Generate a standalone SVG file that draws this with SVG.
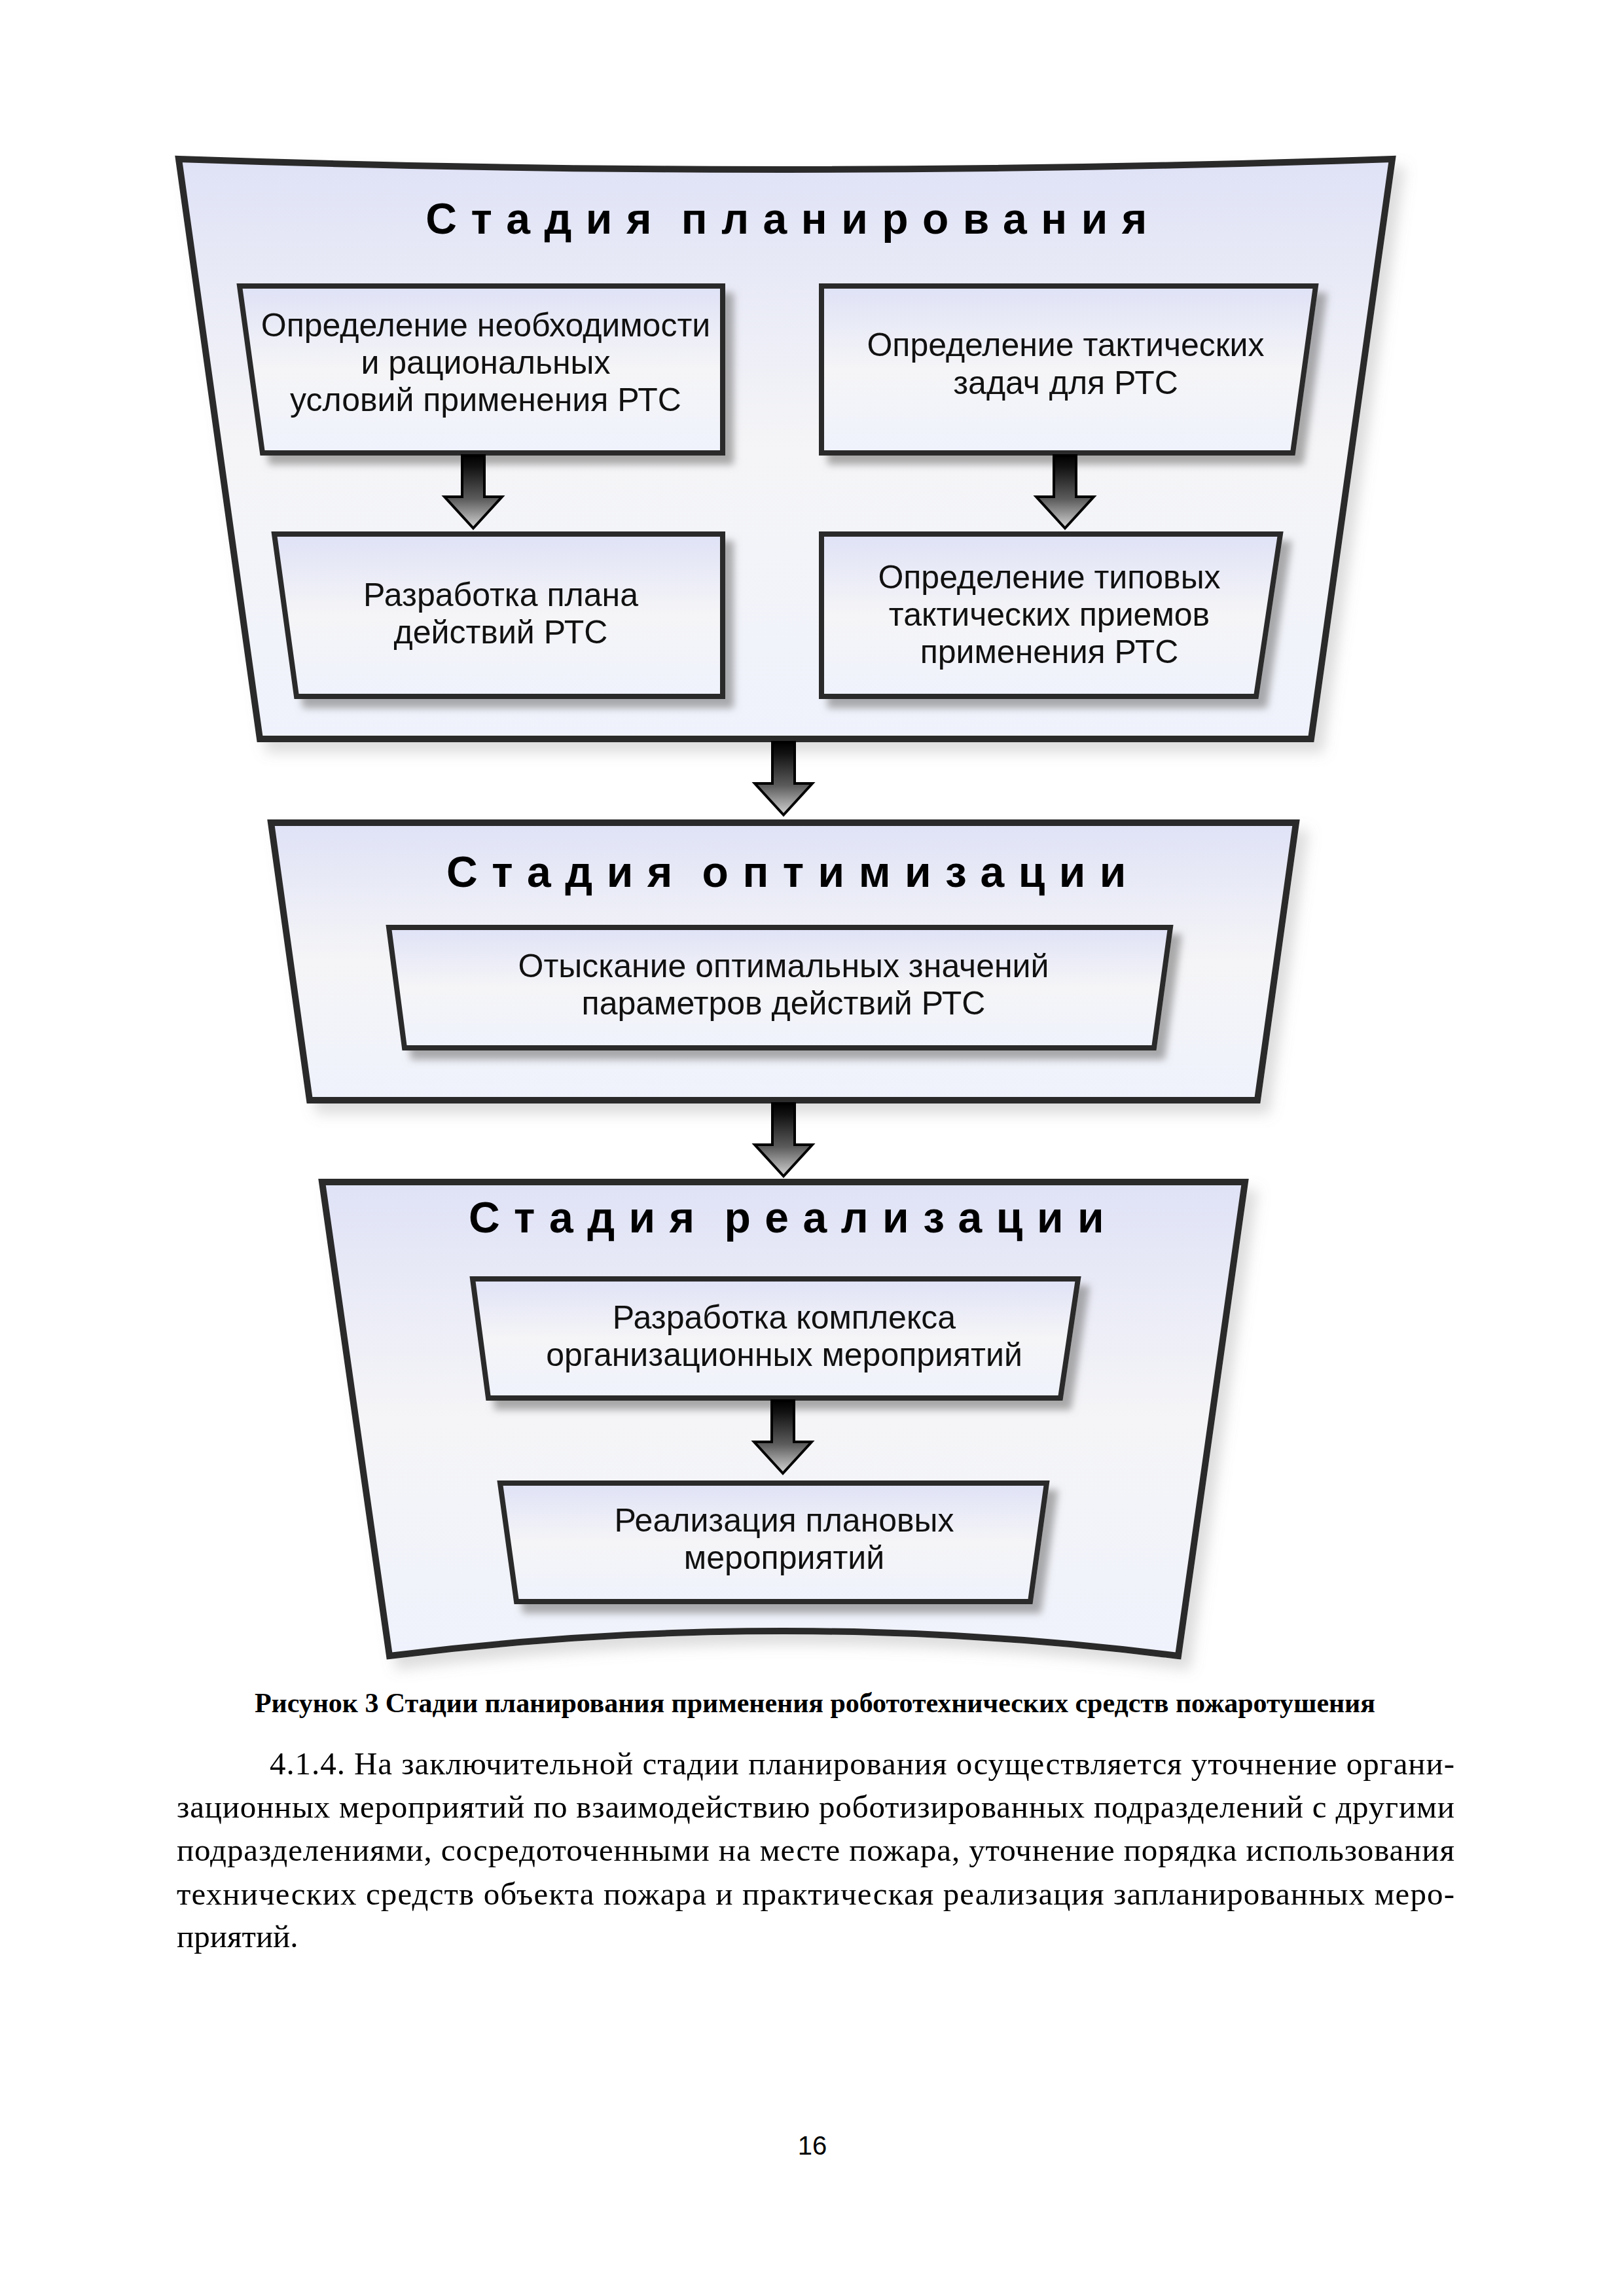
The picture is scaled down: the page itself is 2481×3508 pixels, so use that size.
<svg xmlns="http://www.w3.org/2000/svg" xmlns:xlink="http://www.w3.org/1999/xlink" width="2481" height="3508" viewBox="0 0 2481 3508">
<defs>
<linearGradient id="gFill" x1="0" y1="0" x2="0" y2="1">
<stop offset="0" stop-color="#dfe2f6"/>
<stop offset="0.5" stop-color="#f5f5f7"/>
<stop offset="1" stop-color="#eff2fc"/>
</linearGradient>
<linearGradient id="gArrow" x1="0" y1="0" x2="0" y2="1">
<stop offset="0" stop-color="#000000"/>
<stop offset="0.15" stop-color="#111111"/>
<stop offset="0.6" stop-color="#5c5c5c"/>
<stop offset="1" stop-color="#d4d4d4"/>
</linearGradient>
<filter id="shBox" x="-10%" y="-10%" width="130%" height="140%">
<feDropShadow dx="13" dy="14" stdDeviation="6" flood-color="#808080" flood-opacity="0.65"/>
</filter>
<filter id="shFrame" x="-10%" y="-10%" width="130%" height="130%">
<feDropShadow dx="14" dy="16" stdDeviation="10" flood-color="#909090" flood-opacity="0.3"/>
</filter>
<path id="arrow" d="M-17,0 L17,0 L17,63 L44,63 L0,111 L-44,63 L-17,63 Z" fill="url(#gArrow)" stroke="#000" stroke-width="4" stroke-linejoin="miter"/>
<style>
.frame{fill:url(#gFill);stroke:#2b2a2b;stroke-width:10;stroke-linejoin:miter;filter:url(#shFrame)}
.box{fill:url(#gFill);stroke:#2b2a2b;stroke-width:8;stroke-linejoin:miter;filter:url(#shBox)}
.title{font-family:"Liberation Sans",Arial,sans-serif;font-weight:bold;font-size:66px;letter-spacing:21.5px;word-spacing:-16px;fill:#000;text-anchor:middle}
.lbl{font-family:"Liberation Sans",Arial,sans-serif;font-size:50px;fill:#111;text-anchor:middle}
.cap{font-family:"Liberation Serif","Times New Roman",serif;font-weight:bold;font-size:42px;fill:#000}
.body{font-family:"Liberation Serif","Times New Roman",serif;font-size:49px;fill:#000}
.pg{font-family:"Liberation Sans",Arial,sans-serif;font-size:40px;fill:#000;text-anchor:middle}
</style>
</defs>
<rect width="2481" height="3508" fill="#ffffff"/>

<g id="stage-planning">
<path class="frame" d="M273,243 Q1200,275 2127,243 L2003,1129 L397,1129 Z"/>
<text class="title" x="1212" y="357">Стадия планирования</text>
</g>
<g id="stage-optimization">
<path class="frame" d="M414,1257 L1980,1257 L1921,1681 L473,1681 Z"/>
<text class="title" x="1212" y="1355">Стадия оптимизации</text>
</g>
<g id="stage-realization">
<path class="frame" d="M492,1806 L1902,1806 L1800,2530 Q1197,2454 595,2530 Z"/>
<text class="title" x="1212" y="1883">Стадия реализации</text>
</g>

<g id="box-need">
<path class="box" d="M366,437 L1104,437 L1104,692 L401,692 Z"/>
<text class="lbl" x="742" y="514">Определение необходимости</text>
<text class="lbl" x="742" y="571">и рациональных</text>
<text class="lbl" x="742" y="628">условий применения РТС</text>
</g>
<g id="box-tasks">
<path class="box" d="M1255,437 L2010,437 L1975,692 L1255,692 Z"/>
<text class="lbl" x="1628" y="544">Определение тактических</text>
<text class="lbl" x="1628" y="602">задач для РТС</text>
</g>
<g id="box-plan">
<path class="box" d="M419,816 L1104,816 L1104,1064 L453,1064 Z"/>
<text class="lbl" x="765" y="926">Разработка плана</text>
<text class="lbl" x="765" y="983">действий РТС</text>
</g>
<g id="box-methods">
<path class="box" d="M1255,816 L1956,816 L1919,1064 L1255,1064 Z"/>
<text class="lbl" x="1603" y="899">Определение типовых</text>
<text class="lbl" x="1603" y="956">тактических приемов</text>
<text class="lbl" x="1603" y="1013">применения РТС</text>
</g>
<g id="box-optimal">
<path class="box" d="M594,1417 L1788,1417 L1763,1601 L618,1601 Z"/>
<text class="lbl" x="1197" y="1493">Отыскание оптимальных значений</text>
<text class="lbl" x="1197" y="1550">параметров действий РТС</text>
</g>
<g id="box-complex">
<path class="box" d="M722,1954 L1647,1954 L1620,2136 L746,2136 Z"/>
<text class="lbl" x="1198" y="2030">Разработка комплекса</text>
<text class="lbl" x="1198" y="2087">организационных мероприятий</text>
</g>
<g id="box-realize">
<path class="box" d="M764,2266 L1599,2266 L1574,2447 L789,2447 Z"/>
<text class="lbl" x="1198" y="2340">Реализация плановых</text>
<text class="lbl" x="1198" y="2397">мероприятий</text>
</g>

<g id="connectors">
<use xlink:href="#arrow" x="723" y="696"/>
<use xlink:href="#arrow" x="1627" y="696"/>
<use xlink:href="#arrow" x="1197" y="1134"/>
<use xlink:href="#arrow" x="1197" y="1686"/>
<use xlink:href="#arrow" x="1196" y="2140"/>
</g>

<g id="caption">
<text class="cap" x="389" y="2616" textLength="1712" lengthAdjust="spacing">Рисунок 3 Стадии планирования применения робототехнических средств пожаротушения</text>
</g>
<g id="body-text">
<text class="body" x="412" y="2711" textLength="1810" lengthAdjust="spacing">4.1.4. На заключительной стадии планирования осуществляется уточнение органи-</text>
<text class="body" x="270" y="2777" textLength="1952" lengthAdjust="spacing">зационных мероприятий по взаимодействию роботизированных подразделений с другими</text>
<text class="body" x="270" y="2843" textLength="1952" lengthAdjust="spacing">подразделениями, сосредоточенными на месте пожара, уточнение порядка использования</text>
<text class="body" x="270" y="2910" textLength="1952" lengthAdjust="spacing">технических средств объекта пожара и практическая реализация запланированных меро-</text>
<text class="body" x="270" y="2975">приятий.</text>
</g>
<text class="pg" x="1241" y="3292">16</text>
</svg>
